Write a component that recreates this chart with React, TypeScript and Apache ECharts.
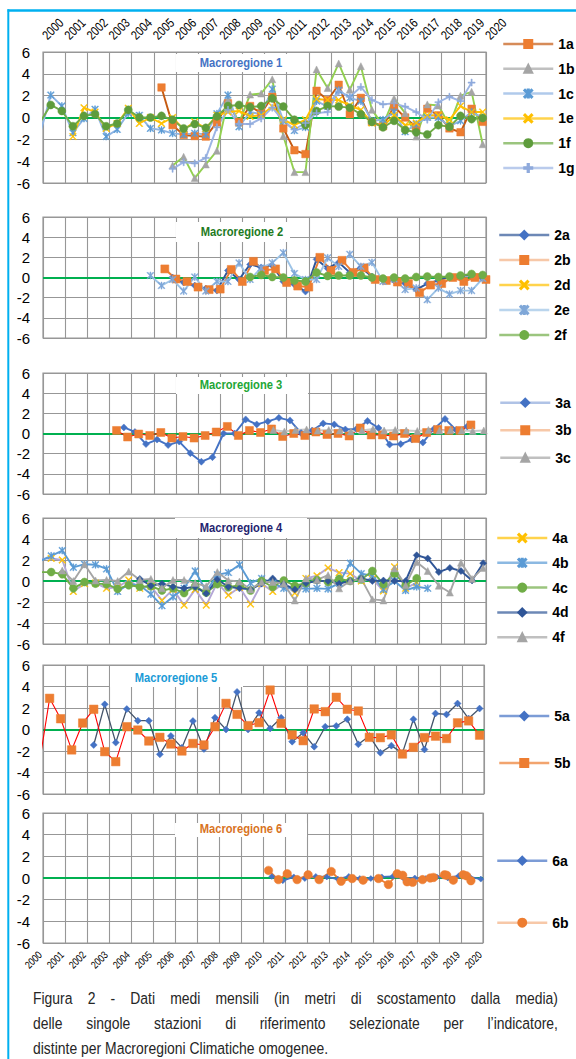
import React, { useEffect, useRef } from 'react';
import * as echarts from 'echarts';

// ---------- tick labels ----------
const YEAR_LABELS = ['2000','2001','2002','2003','2004','2005','2006','2007','2008','2009','2010','2011','2012','2013','2014','2015','2016','2017','2018','2019','2020'];
const Y_TICKS = [-6, -4, -2, 0, 2, 4, 6];

// half-year sampling dates (x positions of the semi-annual points)
const semi = (start: number, n: number) => Array.from({ length: n }, (_, i) => Math.round((start + 0.5 * i) * 100) / 100);

// ---------- Macroregione 1 ----------
const T_P1 = semi(1999.85, 41);
const V_1A = [2.75, -0.7, -1.6, -1.7, -1.75, -0.45, 1.3, -0.4, 1.05, 0.4, 1.9, -1.0, -3.0, -3.35, 2.45, 1.6, 3.0, 0.3, 1.8, -0.4, -0.8, 1.0, 0.0, -0.9, 0.8, 0.2, -1.0, -1.35, 0.8, -0.4];
const V_1B = [-4.4, -3.6, -5.55, -4.3, -3.05, 1.6, -0.5, 2.1, 2.2, 3.5, -1.7, -5.0, -5.0, 4.4, 2.7, 4.95, 2.55, 4.7, 0.7, -0.7, 1.75, 0.4, -1.75, 1.2, 1.1, -0.7, 2.0, 2.35, -2.45];
const V_1C = [-1.6, 2.05, 1.05, -1.4, -0.1, 0.75, -1.75, -1.1, 0.4, 0.2, -1.0, -1.15, -1.45, -1.55, -1.45, -1.55, 0.35, 2.05, -0.85, 0.5, 0.3, 2.6, -0.3, -1.2, -0.9, 1.5, 1.0, 2.5, 1.8, 1.5, -0.3, -0.2, 0.5, -1.3, -0.6, 0.0, 0.0, -0.8, -0.3, 0.5, 0.0];
const V_1E = [-1.75, 0.9, 0.5, -1.0, -0.55, 0.85, -0.55, 0.0, -0.55, 0.0, -1.1, -0.4, -1.0, 0.2, 0.5, 0.6, 0.1, 0.2, 1.0, -0.2, -0.7, -0.2, 1.7, 1.6, 1.6, 1.1, 0.7, -0.5, -0.8, 0.2, -0.7, -0.5, 0.2, 0.2, -0.2, 1.05, 0.5, 0.5];
const V_1F = [-0.5, 1.15, 0.6, -0.8, 0.15, 0.3, -0.8, -0.55, 0.7, 0.0, 0.0, 0.15, -0.2, -1.0, -0.6, -0.95, 0.1, 1.05, 1.15, 0.95, 1.05, 1.75, 1.0, -0.2, -0.7, 0.6, 1.05, 1.0, 0.9, 0.3, -0.4, -0.9, -0.3, -1.15, -1.35, -1.55, -0.7, -0.85, 0.15, -0.15, -0.05];
const V_1G = [-4.7, -4.1, -4.2, -3.7, -0.9, 0.7, -0.6, -0.6, -0.1, 0.9, -0.3, -1.1, -0.5, 0.4, 0.5, 2.4, 1.9, 2.8, 1.6, 1.2, 1.3, 1.0, 0.5, -0.2, 1.4, 1.9, 1.5, 3.2];

// ---------- Macroregione 2 ----------
const T_P2 = semi(1999.85, 41);
const T_2B = semi(2000.0, 41);
const V_2A = [0.0, -0.5, -0.8, -1.1, -1.3, 0.7, -0.2, 1.3, 1.0, 1.2, -0.4, -0.7, -1.4, 1.8, 0.9, 1.5, 0.5, 1.0, 0.1, -0.1, -0.3, -0.6, -1.2, -0.6, -0.3, 0.1, 0.2, 0.2, -0.1];
const V_2B = [0.85, -0.15, -0.4, -0.95, -1.2, -1.15, 0.8, -0.4, 1.6, 0.7, 0.85, -0.5, -0.85, -0.95, 2.0, 0.7, 1.7, 0.5, 0.95, -0.2, -0.3, -0.45, -0.6, -1.5, -0.75, -0.6, 0.0, -0.4, 0.0, -0.2];
const V_2D: number[] = [];
const V_2E = [0.2, -0.8, -0.2, -1.35, 0.05, -1.35, -0.4, -0.4, 1.45, -0.2, 0.95, 1.45, 2.45, 0.4, -0.2, -0.2, 1.95, 1.1, 2.3, 1.1, 1.5, -0.4, -0.15, -1.2, -1.05, -2.2, -1.05, -1.65, -1.3, -1.3, -0.1];
const V_2F = [0.05, 0.25, 0.05, 0.0, -0.3, -0.4, 0.5, 0.15, 0.2, 0.2, 0.2, 0.0, -0.1, 0.0, -0.1, 0.05, 0.1, 0.05, 0.1, 0.2, 0.35, 0.25];

// ---------- Macroregione 3 ----------
const T_3A = semi(2003.65, 32);
const T_3B = semi(2003.32, 33);
const T_3C = semi(2010.4, 20);
const V_3A = [0.6, 0.15, -1.05, -0.6, -1.15, -0.8, -1.95, -2.8, -2.35, 0.0, 0.0, 1.4, 0.9, 1.2, 1.55, 1.3, 0.05, 0.3, 1.0, 0.9, 0.4, 0.45, 1.25, 0.55, -1.1, -1.05, -0.6, -0.9, 0.45, 1.45, 0.35, 0.7];
const V_3B = [0.3, -0.35, -0.05, -0.2, 0.1, -0.45, -0.3, -0.45, -0.2, 0.15, 0.7, -0.2, 0.3, 0.1, 0.45, -0.3, 0.0, -0.2, 0.15, -0.1, 0.0, -0.25, 0.55, -0.15, -0.15, -0.25, 0.0, -0.5, 0.1, 0.4, 0.3, 0.3, 0.85];
const V_3C = [0.35, 0.2, 0.35, 0.4, 0.3, 0.35, 0.3, 0.2, 0.3, 0.45, 0.3, 0.35, 0.3, 0.25, 0.35, 0.3, 0.35, 0.3, 0.25, 0.3];

// ---------- Macroregione 4 ----------
const T_P4 = semi(1999.87, 41);
const V_4A = [2.1, 2.15, 2.0, -1.0, -0.25, -0.2, -0.7, -0.6, 0.1, -0.7, -0.5, -1.85, -0.8, -2.3, -0.8, -2.3, -0.15, -1.35, -0.6, -2.2, -0.25, -1.0, -0.2, -1.15, 0.25, 0.5, 1.25, 0.8, 0.7, 0.0, 0.2, -0.95, 1.35, -0.7, -0.15];
const V_4B = [1.9, 2.4, 2.9, 1.3, 1.6, 1.55, 1.15, -1.0, -0.3, -0.4, -1.25, -2.35, -1.5, -0.7, 0.95, -1.0, 0.6, 0.8, 1.55, -0.2, 0.25, -0.2, -0.7, -0.65, -0.75, -0.7, -0.75, -0.2, 1.7, 0.7, 0.5, -0.8, 0.0, -0.9, -0.55, -0.7];
const V_4C = [0.85, 0.85, 0.65, -0.7, -0.1, -0.25, -0.3, -0.75, -0.4, -0.55, -0.5, -0.9, -0.7, -1.15, -0.5, -1.1, -0.3, -0.6, -0.4, -0.9, 0.0, -0.55, 0.05, -0.45, -0.2, 0.1, -0.1, 0.2, 0.0, 0.15, 0.95, -0.3, 0.7, -0.4, 0.25];
const V_4D = [0.2, -0.45, -0.25, -0.55, -0.7, -0.55, -1.2, 0.15, -0.55, -0.7, -0.8, -0.25, 0.25, -0.3, -0.8, -0.2, 0.0, 0.0, -0.25, 0.0, 0.25, 0.0, 0.05, 0.0, 0.0, 2.45, 2.15, 0.85, 1.25, 0.95, 0.05, 1.7];
const V_4F = [1.0, 0.0, 1.6, 0.05, 0.1, 0.0, 0.9, 0.1, 0.2, -0.7, 0.1, 0.1, -0.2, -0.5, 0.85, 0.05, -0.05, -0.8, -0.1, -0.1, -0.25, -1.85, 0.25, 0.1, 0.55, -0.7, 0.0, 0.2, -1.75, -1.85, 1.2, -0.4, 1.8, 0.95, -0.45, -1.1, 1.75, 0.2, 1.25];

// ---------- Macroregione 5 ----------
const T_P5 = semi(1999.8, 41);
const V_5A = [-1.44, 2.34, -1.22, 1.9, 0.82, 0.82, -2.31, -0.6, -1.69, 0.79, -1.81, 1.1, 0.0, 3.5, 0.0, 1.55, 0.1, 1.1, -1.13, -0.3, -1.6, 0.26, 0.33, 0.95, -1.38, -0.6, -2.16, -1.5, -2.2, 0.95, -1.86, 1.49, 1.4, 2.42, 1.02, 1.95];
const V_5B = [-3.6, 2.9, 1.0, -1.9, 0.6, 1.88, -2.06, -2.99, 0.26, -0.05, -1.07, -0.73, -1.35, -2.0, -1.3, -1.44, 0.26, 2.43, 1.41, 0.36, 0.64, 3.67, 0.57, -0.5, -1.04, 1.91, 1.66, 3.0, 1.88, 1.72, -0.73, -0.76, -0.5, -2.28, -1.66, -0.75, -0.62, -0.84, 0.62, 0.8, -0.53];

// ---------- Macroregione 6 ----------
const T_6A = semi(2010.4, 20);
const V_6A = [0.15, -0.25, 0.1, -0.05, 0.15, 0.1, -0.1, 0.15, -0.05, -0.05, 0.1, 0.15, -0.05, 0.0, -0.05, 0.1, 0.0, 0.2, 0.1, -0.1];
const T_6B = [2010.25, 2010.7, 2011.1, 2011.55, 2012.05, 2012.55, 2013.1, 2013.55, 2014.05, 2014.55, 2015.25, 2015.7, 2016.1, 2016.35, 2016.55, 2016.8, 2017.25, 2017.6, 2017.75, 2018.25, 2018.35, 2018.65, 2019.1, 2019.25, 2019.45];
const V_6B = [0.7, -0.15, 0.4, -0.15, 0.3, -0.15, 0.6, -0.3, -0.05, -0.2, -0.05, -0.6, 0.4, 0.25, -0.35, -0.4, -0.15, 0.0, 0.05, 0.3, 0.25, -0.2, 0.3, 0.2, -0.25];

const TITLES = ['Macroregione 1', 'Macroregione 2', 'Macroregione 3', 'Macroregione 4', 'Macroregione 5', 'Macroregione 6'];
const CAPTION = [
  'Figura 2 - Dati medi mensili (in metri di scostamento dalla media)',
  'delle singole stazioni di riferimento selezionate per l\u2019indicatore,',
  'distinte per Macroregioni Climatiche omogenee.',
];

// ---------- symbols ----------
const SYM_X = 'path://M1,0L5,4L9,0L10,1L6,5L10,9L9,10L5,6L1,10L0,9L4,5L0,1Z';
const SYM_AST = 'path://M1,0L5,4L9,0L10,1L6,5L10,9L9,10L5,6L1,10L0,9L4,5L0,1Z M4.3,0L5.7,0L5.7,10L4.3,10Z';
const SYM_PLUS = 'path://M4.2,0L5.8,0L5.8,4.2L10,4.2L10,5.8L5.8,5.8L5.8,10L4.2,10L4.2,5.8L0,5.8L0,4.2L4.2,4.2Z';

const FONT_N = "'Liberation Sans Narrow', 'Arial Narrow', 'Liberation Sans', Arial, sans-serif";
const FONT_R = "'Liberation Sans', Arial, sans-serif";
const GRID_GRAY = '#979797';

type Sty = { symbol: string; size: number; line: string; fill: string; lw?: number; legendLine?: string };

const GRIDS = [
  { top: 52, height: 131, width: 443 },
  { top: 217, height: 121, width: 443 },
  { top: 373, height: 121, width: 443 },
  { top: 518, height: 126, width: 443 },
  { top: 665, height: 129, width: 441 },
  { top: 813, height: 130, width: 440 },
];

const LEGENDS = [
  { left: 502, top: 37, gap: 10.8 },
  { left: 498, top: 228, gap: 11 },
  { left: 499, top: 395.7, gap: 13.5 },
  { left: 496, top: 531, gap: 10.8 },
  { left: 498, top: 709, gap: 33 },
  { left: 496, top: 853.7, gap: 48 },
];

const TITLE_BOX = [
  { x: 176, y: 54, w: 130, h: 18, cx: 241, cy: 63, color: '#4472C4' },
  { x: 176, y: 222, w: 114, h: 20, cx: 242, cy: 232, color: '#1E7B1E' },
  { x: 176, y: 377, w: 132, h: 17, cx: 241, cy: 385, color: '#22A636' },
  { x: 175, y: 518, w: 132, h: 20, cx: 241, cy: 528, color: '#1F2470' },
  { x: 110, y: 666, w: 133, h: 21, cx: 176, cy: 678, color: '#1A9BD7' },
  { x: 175, y: 823, w: 132, h: 14, cx: 241, cy: 829, color: '#D8731E' },
];

function pairs(times: number[], vals: number[], offset: number) {
  const out: number[][] = [];
  vals.forEach((v, i) => {
    if (v !== null && v !== undefined) out.push([times[offset + i], v]);
  });
  return out;
}

function mk(name: string, panel: number, data: number[][], s: Sty, zero = false): any {
  const ser: any = {
    type: 'line',
    name,
    xAxisIndex: panel,
    yAxisIndex: panel,
    data,
    symbol: s.symbol,
    symbolSize: s.size,
    showAllSymbol: true,
    clip: true,
    lineStyle: { color: s.line, width: s.lw ?? 1.9 },
    itemStyle: { color: s.fill, borderColor: s.fill, borderWidth: 0.5 },
    emphasis: { disabled: true },
    z: 3,
  };
  if (zero) {
    ser.markLine = {
      silent: true,
      symbol: 'none',
      z: 2,
      label: { show: false },
      lineStyle: { color: '#00B050', width: 2, type: 'solid' },
      data: [{ yAxis: 0 }],
    };
  }
  return ser;
}

const PANELS: { name: string; data: number[][]; s: Sty }[][] = [
  [
    { name: '1a', data: pairs(T_P1, V_1A, 11), s: { symbol: 'rect', size: 7.5, line: '#C55A11', fill: '#ED7D31' } },
    { name: '1b', data: pairs(T_P1, V_1B, 12), s: { symbol: 'triangle', size: 7, line: '#92D050', fill: '#A5A5A5', legendLine: '#A5A5A5' } },
    { name: '1c', data: pairs(T_P1, V_1C, 0), s: { symbol: SYM_AST, size: 7, line: '#8EB4E3', fill: '#5B9BD5' } },
    { name: '1e', data: pairs(T_P1, V_1E, 3), s: { symbol: SYM_X, size: 7, line: '#FFC000', fill: '#FFC000' } },
    { name: '1f', data: pairs(T_P1, V_1F, 0), s: { symbol: 'circle', size: 8, line: '#70AD47', fill: '#5E9C3C' } },
    { name: '1g', data: pairs(T_P1, V_1G, 12), s: { symbol: SYM_PLUS, size: 7, line: '#9DB5E4', fill: '#8FAADC' } },
  ],
  [
    { name: '2a', data: pairs(T_P2, V_2A, 12), s: { symbol: 'diamond', size: 7, line: '#2F5597', fill: '#4472C4' } },
    { name: '2b', data: pairs(T_2B, V_2B, 11), s: { symbol: 'rect', size: 8, line: '#ED7D31', fill: '#ED7D31', legendLine: '#F4B183' } },
    { name: '2d', data: pairs(T_P2, V_2D, 0), s: { symbol: SYM_X, size: 7, line: '#FFC000', fill: '#FFC000' } },
    { name: '2e', data: pairs(T_P2, V_2E, 10), s: { symbol: SYM_AST, size: 7, line: '#9DC3E6', fill: '#7FA7D8' } },
    { name: '2f', data: pairs(T_P2, V_2F, 19), s: { symbol: 'circle', size: 8, line: '#70AD47', fill: '#70AD47' } },
  ],
  [
    { name: '3a', data: pairs(T_3A, V_3A, 0), s: { symbol: 'diamond', size: 7, line: '#4472C4', fill: '#4472C4', legendLine: '#8FAADC' } },
    { name: '3b', data: pairs(T_3B, V_3B, 0), s: { symbol: 'rect', size: 8, line: '#FF0000', fill: '#ED7D31', lw: 1.1, legendLine: '#F4B183' } },
    { name: '3c', data: pairs(T_3C, V_3C, 0), s: { symbol: 'triangle', size: 7, line: '#C9C9C9', fill: '#A5A5A5', legendLine: '#A5A5A5' } },
  ],
  [
    { name: '4a', data: pairs(T_P4, V_4A, 0), s: { symbol: SYM_X, size: 7, line: '#B4A7D6', fill: '#FFC000', legendLine: '#FFC000' } },
    { name: '4b', data: pairs(T_P4, V_4B, 0), s: { symbol: SYM_AST, size: 7, line: '#5B9BD5', fill: '#5B9BD5' } },
    { name: '4c', data: pairs(T_P4, V_4C, 0), s: { symbol: 'circle', size: 8, line: '#70AD47', fill: '#70AD47' } },
    { name: '4d', data: pairs(T_P4, V_4D, 9), s: { symbol: 'diamond', size: 7, line: '#2F5597', fill: '#2F5597' } },
    { name: '4f', data: pairs(T_P4, V_4F, 2), s: { symbol: 'triangle', size: 7, line: '#A5A5A5', fill: '#A5A5A5' } },
  ],
  [
    { name: '5a', data: pairs(T_P5, V_5A, 5), s: { symbol: 'diamond', size: 7, line: '#44546A', fill: '#4472C4', lw: 1.3, legendLine: '#4472C4' } },
    { name: '5b', data: pairs(T_P5, V_5B, 0), s: { symbol: 'rect', size: 8.5, line: '#FF0000', fill: '#ED7D31', lw: 1.1, legendLine: '#ED7D31' } },
  ],
  [
    { name: '6a', data: pairs(T_6A, V_6A, 0), s: { symbol: 'diamond', size: 6, line: '#4472C4', fill: '#4472C4' } },
    { name: '6b', data: pairs(T_6B, V_6B, 0), s: { symbol: 'circle', size: 8.5, line: '#ED7D31', fill: '#ED7D31', legendLine: '#F4B183' } },
  ],
];

function hasFont(name: string) {
  const c = document.createElement('canvas').getContext('2d')!;
  c.font = '20px monospace';
  const a = c.measureText('abcdefghijklmnop').width;
  c.font = `20px '${name}', monospace`;
  const b = c.measureText('abcdefghijklmnop').width;
  return Math.abs(a - b) > 0.5;
}

const NARROW = typeof document !== 'undefined' ? hasFont('Liberation Sans Narrow') : false;
const NFAM = NARROW ? "'Liberation Sans Narrow'" : "'Liberation Sans'";
const NSCALE = NARROW ? 1 : 0.82;

function buildOption() {
  const capSize = 17;
  const ctx = document.createElement('canvas').getContext('2d')!;
  ctx.font = `${capSize}px ${NFAM}`;
  const w = (s: string) => ctx.measureText(s).width * NSCALE;

  const grid = GRIDS.map((g) => ({
    left: 43, top: g.top, width: g.width, height: g.height,
    show: true, borderColor: GRID_GRAY, borderWidth: 1.2, backgroundColor: 'transparent',
  }));

  const xAxis = GRIDS.map((_, i) => ({
    type: 'value', gridIndex: i, min: 2000, max: 2020, interval: 1,
    position: i === 0 ? 'top' : 'bottom',
    axisLine: { show: false },
    axisTick: { show: false },
    splitLine: { show: true, lineStyle: { color: GRID_GRAY, width: 1.1 } },
    axisLabel: { show: false },
  }));

  const yAxis = GRIDS.map((_, i) => ({
    type: 'value', gridIndex: i, min: Y_TICKS[0], max: Y_TICKS[Y_TICKS.length - 1], interval: 2,
    axisLine: { show: false },
    axisTick: { show: false },
    splitLine: { show: true, lineStyle: { color: GRID_GRAY, width: 1.1 } },
    axisLabel: { color: '#000', fontFamily: FONT_R, fontSize: 15, margin: 13 },
  }));

  const series: any[] = [];
  const legend: any[] = [];
  PANELS.forEach((p, pi) => {
    p.forEach((s, si) => series.push(mk(s.name, pi, s.data, s.s, si === 0)));
    const L = LEGENDS[pi];
    legend.push({
      orient: 'vertical', left: L.left, top: L.top, itemGap: L.gap,
      itemWidth: 50, itemHeight: 10, selectedMode: false, padding: 0,
      textStyle: { color: '#000', fontWeight: 'bold', fontSize: 14, fontFamily: FONT_N, lineHeight: 14 },
      data: p.map((s) => ({
        name: s.name,
        lineStyle: { color: s.s.legendLine ?? s.s.line, width: 2.5, opacity: 0.7 },
        itemStyle: { color: s.s.fill, borderColor: s.s.fill },
      })),
    });
  });

  const graphics: any[] = [];
  // frame
  graphics.push({ type: 'line', z: 10, silent: true, shape: { x1: 7.5, y1: 10.5, x2: 576, y2: 10.5 }, style: { stroke: '#00B0F0', lineWidth: 2.4 } });
  graphics.push({ type: 'line', z: 10, silent: true, shape: { x1: 8.3, y1: 9.3, x2: 8.3, y2: 1059 }, style: { stroke: '#00B0F0', lineWidth: 2 } });
  // titles
  TITLE_BOX.forEach((b, i) => {
    graphics.push({ type: 'rect', z: 1, silent: true, shape: { x: b.x, y: b.y, width: b.w, height: b.h }, style: { fill: '#FFFFFF' } });
    graphics.push({
      type: 'text', z: 1, silent: true, x: b.cx, y: b.cy, scaleX: NARROW ? 1 : 0.86,
      style: { text: TITLES[i], fill: b.color, font: `bold 13px ${NFAM}`, align: 'center', verticalAlign: 'middle' },
    });
  });
  // caption (justified lines)
  const capLeft = 33, capRight = 558;
  const capY = [998, 1023, 1048];
  CAPTION.forEach((line, li) => {
    const words = line.split(' ');
    const widths = words.map(w);
    const total = widths.reduce((a, b) => a + b, 0);
    const justify = li < CAPTION.length - 1;
    const gap = justify ? (capRight - capLeft - total) / (words.length - 1) : w(' ');
    let x = capLeft;
    words.forEach((word, wi) => {
      graphics.push({
        type: 'text', z: 1, silent: true, x, y: capY[li], scaleX: NSCALE,
        style: { text: word, fill: '#262626', font: `${capSize}px ${NFAM}`, align: 'left', verticalAlign: 'middle' },
      });
      x += widths[wi] + gap;
    });
  });

  return {
    animation: false,
    backgroundColor: '#FFFFFF',
    grid, xAxis, yAxis, series, legend,
    graphic: { elements: graphics },
  };
}

// rotated year labels positioned through the axis scale (top of panel 1, bottom of panel 6)
function yearLabels(chart: any) {
  const out: any[] = [];
  YEAR_LABELS.forEach((lab) => {
    const yr = Number(lab);
    const top = chart.convertToPixel({ gridIndex: 0 }, [yr, Y_TICKS[Y_TICKS.length - 1]]);
    out.push({
      type: 'text', z: 1, silent: true, x: top[0] + 1.5, y: top[1] - 14.6, rotation: Math.PI / 4, scaleX: NARROW ? 1 : 0.82,
      style: { text: lab, fill: '#000', font: `13px ${NFAM}`, align: 'left', verticalAlign: 'middle' },
    });
    const bot = chart.convertToPixel({ gridIndex: 5 }, [yr, Y_TICKS[0]]);
    out.push({
      type: 'text', z: 1, silent: true, x: bot[0] - 3, y: bot[1] + 10, rotation: Math.PI / 4, scaleX: NARROW ? 1 : 0.82,
      style: { text: lab, fill: '#000', font: `10.5px ${NFAM}`, align: 'right', verticalAlign: 'middle' },
    });
  });
  return out;
}

export default function App() {
  const ref = useRef<HTMLDivElement>(null);
  useEffect(() => {
    const chart = echarts.init(ref.current!, null, { renderer: 'svg' });
    const opt: any = buildOption();
    chart.setOption(opt);
    const extra = yearLabels(chart);
    chart.setOption({ graphic: { elements: [...opt.graphic.elements, ...extra] } });
    return () => chart.dispose();
  }, []);
  return <div ref={ref} style={{ position: 'absolute', left: 0, top: 0, width: 576, height: 1059, background: '#fff' }} />;
}
